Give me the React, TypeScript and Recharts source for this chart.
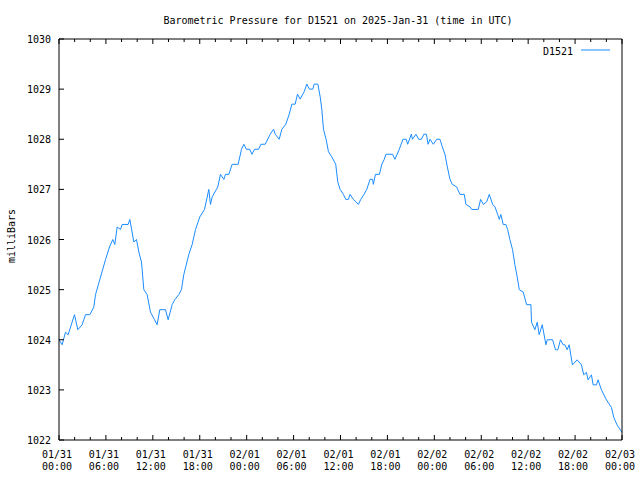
import { Line, LineChart, XAxis, YAxis } from "recharts";

// hours since 2025-01-31 00:00 UTC
const HOURS = [
  0, 0.4, 0.83, 1.17, 1.98, 2.41, 2.96, 3.39, 3.94, 4.45, 4.67, 5.31, 5.95, 6.46, 6.88, 7.14, 7.44, 7.86, 8.08,
  8.84, 9.06, 9.57, 9.91, 10.21, 10.55, 10.85, 11.27, 11.7, 12.21, 12.55, 12.89, 13.62, 13.96, 14.47, 14.81,
  15.32, 15.66, 15.96, 16.6, 17.03, 17.46, 18.01, 18.61, 19.16, 19.37, 19.59, 20.31, 20.65, 21.08, 21.29,
  21.72, 22.14, 22.91, 23.34, 23.64, 23.96, 24.4, 24.67, 25.01, 25.52, 25.82, 26.37, 27.01, 27.44, 27.65,
  28.16, 28.5, 29.01, 29.44, 29.78, 30.2, 30.5, 30.84, 31.36, 31.69, 32.03, 32.46, 32.63, 33.1, 33.4, 33.61,
  33.82, 34.16, 34.46, 34.88, 35.39, 35.65, 35.95, 36.37, 36.67, 37.01, 37.22, 37.65, 37.99, 38.29, 38.59,
  39.01, 39.36, 39.78, 40.1, 40.2, 40.47, 40.98, 41.28, 41.6, 41.8, 42.66, 42.96, 43.52, 43.99, 44.41, 44.59,
  45.06, 45.2, 45.65, 46.0, 46.35, 46.65, 46.99, 47.2, 47.45, 47.87, 48.3, 48.72, 49.02, 49.36, 49.66, 50.0,
  50.3, 50.85, 51.28, 51.83, 52.04, 52.56, 52.77, 53.62, 53.92, 54.27, 54.69, 55.03, 55.46, 55.76, 56.1,
  56.31, 56.5, 56.81, 57.15, 57.37, 57.66, 58.0, 58.3, 58.6, 58.86, 59.37, 59.8, 60.35, 60.43, 60.86, 61.16,
  61.41, 61.8, 62.27, 62.44, 63.12, 63.5, 63.8, 64.13, 64.47, 64.7, 64.98, 65.24, 65.66, 66.26, 66.81, 67.11,
  67.45, 67.66, 68.09, 68.31, 68.73, 68.94, 69.37, 70.01, 70.65, 70.95, 71.37, 71.8, 72.0,
];

const PRESSURE = [
  1024.0, 1023.9, 1024.15, 1024.1, 1024.5, 1024.2, 1024.3, 1024.5, 1024.5, 1024.65, 1024.9, 1025.25, 1025.6,
  1025.85, 1026.0, 1025.9, 1026.25, 1026.2, 1026.3, 1026.3, 1026.4, 1025.95, 1026.0, 1025.75, 1025.55, 1025.0,
  1024.9, 1024.55, 1024.4, 1024.3, 1024.6, 1024.6, 1024.4, 1024.7, 1024.8, 1024.9, 1025.0, 1025.3, 1025.7,
  1025.9, 1026.2, 1026.45, 1026.6, 1027.0, 1026.7, 1026.85, 1027.05, 1027.3, 1027.2, 1027.3, 1027.3, 1027.5,
  1027.5, 1027.8, 1027.9, 1027.8, 1027.8, 1027.7, 1027.8, 1027.8, 1027.9, 1027.9, 1028.1, 1028.2, 1028.1,
  1028.0, 1028.2, 1028.3, 1028.5, 1028.7, 1028.7, 1028.9, 1028.8, 1028.95, 1029.1, 1029.0, 1029.0, 1029.1,
  1029.1, 1028.85, 1028.6, 1028.2, 1028.0, 1027.75, 1027.65, 1027.5, 1027.15, 1027.0, 1026.9, 1026.8, 1026.8,
  1026.9, 1026.8, 1026.75, 1026.7, 1026.8, 1026.9, 1027.0, 1027.2, 1027.2, 1027.1, 1027.3, 1027.3, 1027.5,
  1027.6, 1027.7, 1027.7, 1027.6, 1027.8, 1028.0, 1028.0, 1027.9, 1028.1, 1028.0, 1028.1, 1028.0, 1028.0,
  1028.1, 1028.1, 1027.9, 1028.0, 1027.9, 1028.0, 1028.0, 1027.85, 1027.7, 1027.45, 1027.2, 1027.1, 1027.05,
  1026.9, 1026.9, 1026.7, 1026.65, 1026.6, 1026.6, 1026.8, 1026.7, 1026.75, 1026.9, 1026.7, 1026.65, 1026.5,
  1026.4, 1026.5, 1026.3, 1026.3, 1026.2, 1026.0, 1025.8, 1025.5, 1025.25, 1025.0, 1024.95, 1024.7, 1024.7,
  1024.35, 1024.2, 1024.35, 1024.1, 1024.3, 1023.9, 1024.0, 1024.0, 1023.8, 1023.8, 1024.0, 1023.9, 1023.9,
  1023.8, 1023.9, 1023.5, 1023.6, 1023.5, 1023.3, 1023.35, 1023.2, 1023.3, 1023.1, 1023.1, 1023.2, 1023.0,
  1022.8, 1022.65, 1022.45, 1022.3, 1022.2, 1022.15,
];

const X_TICKS = [0, 2, 4, 6, 8, 10, 12, 14, 16, 18, 20, 22, 24, 26, 28, 30, 32, 34, 36, 38, 40, 42, 44, 46, 48, 50, 52, 54, 56, 58, 60, 62, 64, 66, 68, 70, 72];
const MAJOR_HOURS = [0, 6, 12, 18, 24, 30, 36, 42, 48, 54, 60, 66, 72];
const TICK_DATES = ["01/31", "01/31", "01/31", "01/31", "02/01", "02/01", "02/01", "02/01", "02/02", "02/02", "02/02", "02/02", "02/03"];
const TICK_TIMES = ["00:00", "06:00", "12:00", "18:00", "00:00", "06:00", "12:00", "18:00", "00:00", "06:00", "12:00", "18:00", "00:00"];
const Y_TICKS = [1022, 1023, 1024, 1025, 1026, 1027, 1028, 1029, 1030];

const data = HOURS.map((h, i) => ({ h, p: PRESSURE[i] }));

const FONT = "'DejaVu Sans Mono', monospace";
const LINE_COLOR = "#1a8cff";

function BottomTick(props: any) {
  const { x, y, payload } = props;
  const idx = MAJOR_HOURS.indexOf(payload.value);
  const major = idx >= 0;
  return (
    <g>
      <line x1={x} y1={y} x2={x} y2={y - (major ? 5 : 3)} stroke="#000" />
      {major && (
        <text x={x - 2} y={y + 18} textAnchor="middle" fontFamily={FONT} fontSize={10} fill="#000">
          {TICK_DATES[idx]}
        </text>
      )}
      {major && (
        <text x={x - 2} y={y + 30} textAnchor="middle" fontFamily={FONT} fontSize={10} fill="#000">
          {TICK_TIMES[idx]}
        </text>
      )}
    </g>
  );
}

function TopTick(props: any) {
  const { x, y, payload } = props;
  const major = MAJOR_HOURS.includes(payload.value);
  return <line x1={x} y1={y} x2={x} y2={y + (major ? 5 : 3)} stroke="#000" />;
}

function LeftTick(props: any) {
  const { x, y, payload } = props;
  return (
    <g>
      <line x1={x} y1={y} x2={x + 5} y2={y} stroke="#000" />
      <text x={x - 8} y={y + 4} textAnchor="end" fontFamily={FONT} fontSize={10} fill="#000">
        {payload.value}
      </text>
    </g>
  );
}

function RightTick(props: any) {
  const { x, y } = props;
  return <line x1={x} y1={y} x2={x - 5} y2={y} stroke="#000" />;
}

export default function App() {
  return (
    <div style={{ position: "absolute", left: 0, top: 0, width: 640, height: 480, background: "#fff" }}>
      <LineChart width={640} height={480} data={data} margin={{ top: 38, right: 0, bottom: 0, left: 0 }}>
        <XAxis
          xAxisId="bottom"
          dataKey="h"
          type="number"
          domain={[0, 72]}
          ticks={X_TICKS}
          height={40}
          axisLine={{ stroke: "#000" }}
          tickLine={false}
          tickSize={0}
          tickMargin={0}
          tick={<BottomTick />}
          interval={0}
        />
        <XAxis
          xAxisId="top"
          orientation="top"
          dataKey="h"
          type="number"
          domain={[0, 72]}
          ticks={X_TICKS}
          height={1}
          axisLine={{ stroke: "#000" }}
          tickLine={false}
          tickSize={0}
          tickMargin={0}
          tick={<TopTick />}
          interval={0}
        />
        <YAxis
          yAxisId="left"
          type="number"
          domain={[1022, 1030]}
          ticks={Y_TICKS}
          width={59}
          axisLine={{ stroke: "#000" }}
          tickLine={false}
          tickSize={0}
          tickMargin={0}
          tick={<LeftTick />}
          interval={0}
        />
        <YAxis
          yAxisId="right"
          orientation="right"
          type="number"
          domain={[1022, 1030]}
          ticks={Y_TICKS}
          width={18}
          axisLine={{ stroke: "#000" }}
          tickLine={false}
          tickSize={0}
          tickMargin={0}
          tick={<RightTick />}
          interval={0}
        />
        <Line
          xAxisId="bottom"
          yAxisId="left"
          type="linear"
          dataKey="p"
          stroke={LINE_COLOR}
          strokeWidth={1}
          dot={false}
          isAnimationActive={false}
        />
      </LineChart>
      <svg
        width={640}
        height={480}
        style={{ position: "absolute", left: 0, top: 0, pointerEvents: "none" }}
      >
        <text x={338} y={24} textAnchor="middle" fontFamily={FONT} fontSize={10} fill="#000">
          Barometric Pressure for D1521 on 2025-Jan-31 (time in UTC)
        </text>
        <text
          x={0}
          y={0}
          transform="translate(15,236) rotate(-90)"
          textAnchor="middle"
          fontFamily={FONT}
          fontSize={10}
          fill="#000"
        >
          milliBars
        </text>
        <text x={573} y={55} textAnchor="end" fontFamily={FONT} fontSize={10} fill="#000">
          D1521
        </text>
        <line x1={581} y1={50} x2={610} y2={50} stroke={LINE_COLOR} />
      </svg>
    </div>
  );
}
